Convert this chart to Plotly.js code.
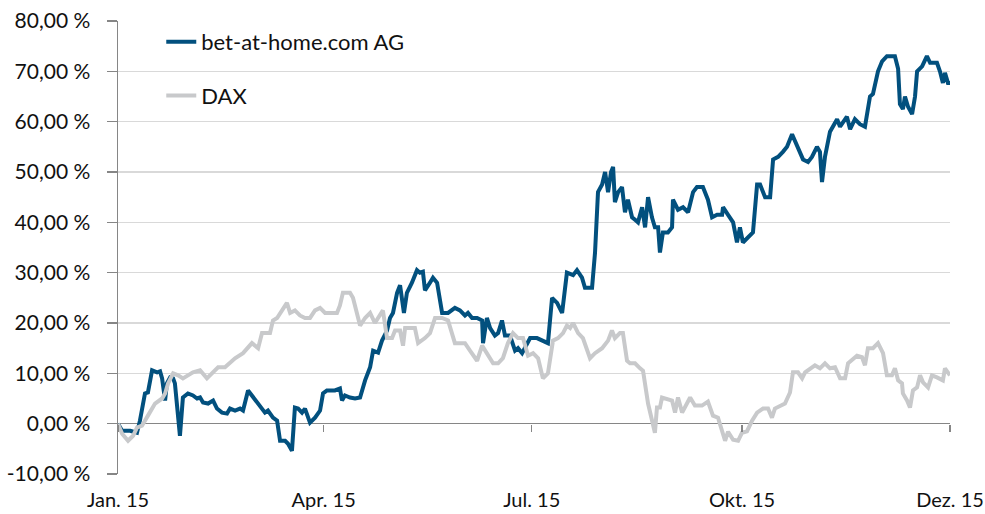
<!DOCTYPE html>
<html>
<head>
<meta charset="utf-8">
<script src="https://cdn.plot.ly/plotly-3.0.1.min.js"></script>
<style>html,body{margin:0;padding:0;background:#fff;}#chart{width:985px;height:514px;}</style>
</head>
<body>
<div id="chart"></div>
<script>
// Days since 1 Jan 2015 and performance in %
const betDays = [0,1.8,5.3,8.3,9.6,11.8,13.1,14.9,17.1,18.4,19.3,20.6,21.4,22.8,24.1,24.9,27.1,28.4,30.6,32.8,34.6,35.9,37.2,39.4,41.6,43.3,45.5,47.7,49,51.2,53.4,54.7,56.9,58.6,60.8,63,64.3,65.6,67.8,69.6,70.9,73.1,74.4,76.1,77.4,78.8,80.5,81.8,84,86.2,88.4,89.7,91.4,94.9,97.1,98,99.3,101.5,103.7,105.9,108.1,110.3,111.6,113.8,115.5,117.7,119,120.3,122.1,123.4,124.3,125.1,126.4,128.6,130.8,132.1,133.4,134.3,136.5,137.8,139.6,141.8,144.4,147.4,149.6,151.8,153.1,154.9,157.1,159.3,159.7,161.4,162.8,164.9,166.3,168,169.3,171.5,173.7,175,176.8,178.9,180.3,183.3,185.9,188.1,189.9,192.1,194.3,196.4,199.1,200.8,203,204.3,207.4,208.7,210,211.8,213.1,214.4,215.7,216.6,217.4,218.8,220.5,221.8,223.1,224.9,226.2,227.5,229.3,230.6,231.9,233.6,234.9,236.3,237.1,238.4,240.6,242.4,242.8,245,247.2,249.4,251.6,253.3,255.9,258.1,259.9,262.1,264.3,264.7,266.9,269.1,270.8,272.1,273.4,275.6,277.8,279.6,280.9,283.1,285.3,286.6,288.8,290.9,292.7,294.9,297.5,299.7,301.9,303.6,305.8,307.1,308,309.3,311.5,312.8,314.6,315.9,317.2,318.9,320.3,322.4,324.6,326.8,329,330.3,332.5,334.3,336.4,339.9,341.3,342.1,343.4,344.3,345.6,347.4,348.7,349.6,351.8,353.9,355.3,358.3,359.6,360.9,361.8,363.1,364];
const betValues = [0,-1.4,-1.4,-1.8,0.6,6,6.2,10.6,10.2,10.4,9,4.6,8,9.2,9,8,-2.4,5.2,6,5.6,5,5.2,4.2,4,4.6,3,2.2,2,3,2.6,3,2.6,6.6,5.6,4.2,3.2,2.2,2.6,1.2,0.6,-3.4,-3.4,-4,-5.4,3.2,3,2.2,3,0.2,1.2,2.6,6,6.6,6.6,7,4.6,5.6,5.2,5,5.2,8.6,11.2,14.5,14.1,16.5,18.5,21,22,26,27.5,25,22,26,28,30.5,30,30.2,26.5,28,29,28,22,22,23,22.5,21.5,22,21,21,20.5,16,21,19,17.5,18,20.5,17.5,17.5,14.5,15,14,16,17,17,16.5,16,25,24,22,30,29.5,30.5,29,27,27,34,46,47.5,50,46,50,51,44,46,47,42,44.5,41,40.5,40,43,39,45,41,39,39,34,38,38,39,44.5,42.5,43,42,46,47,47,44.5,41,41.5,41.5,43,41.5,40,36,39,36,37,38,47.5,47.5,45,45,52.5,53,54,55,57.5,55,52.5,52,53,55,54,48,53,58,59,60.5,59,60,61,58.5,60.5,59.5,59,65,65.5,70,72,73,73,70.5,63.5,62.5,65,63,61.5,65,70,71,73,71.7,71.7,70,67.7,69.7,67.7,67.7];

const daxDays = [0,1.8,4.4,6.6,8.3,10.5,13.1,16.2,19.3,20.6,21.9,24.1,26.3,28.4,30.6,32.8,35.9,38.9,41.1,43.8,46.8,49,51.2,54.7,56.9,58.6,61.3,63,66.5,67.8,69.6,71.8,73.9,75.3,77.4,79.6,81.8,84,86.2,88.4,90.6,95.8,97.1,98.4,101.5,102.8,104.6,105.9,108.1,110.3,112.4,114.6,115.9,117.7,119.9,121.2,123.4,124.7,125.6,127.8,129.9,131.3,134.3,136.5,138.7,141.8,144.4,147.4,150.5,151.8,154,157.1,159.3,161.4,164.1,166.3,168.4,170.6,172.8,175,177.2,179.4,181.6,183.8,185.9,188.1,190.3,192.5,194.7,196.4,197.8,199.1,201.3,203.4,206.5,208.7,211.8,214.4,216.1,217.4,219.6,220.9,222.7,224,226.2,228.4,229.7,231.9,233.6,234.9,235.8,237.1,238,240.2,242.4,243.7,245,246.8,250.3,252.4,255.5,258.1,260.3,262.5,264.3,265.6,266.9,269.1,271.3,273,275.2,277.4,279.6,282.2,284.4,286.1,287.4,289.6,291.8,294,295.3,297.5,299.3,300.6,302.8,304.9,307.1,309.3,311.5,313.7,315.9,318.1,319.4,321.6,323.3,325.5,326.8,328.1,330.3,332.5,334.7,336.4,338.6,339.9,341.3,343,343.4,345.2,346.5,347.8,349.6,350.9,352.2,354.4,356.1,358.3,360.9,361.8,363.1,364];
const daxValues = [0,-2,-3.4,-2.4,-0.8,-0.4,1.6,4,5,6,8,10,9.6,9,9.6,10.2,10.6,9,10,11.2,11.2,12,13,14,15,16,15,18,18,20.5,21,22.5,24,22,22.5,21.5,21,21,22.5,23,22,22,23.5,26,26,25,21.5,19.5,21,22,20,21.5,22.5,17,17,18.5,18.5,15.5,19,19,19,16,17,18,21,21,20.5,16,16,16,14.5,12.5,15.5,14,12,12,13,16,18,17,17,13.5,14,13,9,10,16.5,17,18,19.5,19,20,18,17,13,14,15,16.5,18.5,17,18,18,12.5,12,12,11,10.5,4,0.6,-1.8,3.2,3.2,5.2,5,4.6,2.2,5.2,2.2,5.2,3.6,3.6,4.4,1.6,1.2,-1.8,-3.4,-1.6,-3.2,-3.4,-1.8,-1.5,0.6,2.2,3,3,1.2,3,3.6,4,6.2,10.2,10.2,9,10.2,11,11.6,11,12,11,11.2,9,9,12,13,13.5,13.2,11.6,15,15,16,14,9.6,9.6,11,8.6,8,6,4.6,3.2,6.6,7.2,9.6,8.2,7.2,9.6,9.2,8.6,11,10,9.6];

const seriesNames = ['bet-at-home.com AG', 'DAX'];
const xTickDates = ['2015-01-01', '2015-04-01', '2015-07-01', '2015-10-01', '2015-12-31'];
const xTickLabels = ['Jan. 15', 'Apr. 15', 'Jul. 15', 'Okt. 15', 'Dez. 15'];
const yTickValues = [-10, 0, 10, 20, 30, 40, 50, 60, 70, 80];
const yTickLabels = ['-10,00 %', '0,00 %', '10,00 %', '20,00 %', '30,00 %', '40,00 %', '50,00 %', '60,00 %', '70,00 %', '80,00 %'];

const base = Date.UTC(2015, 0, 1);
const toDate = d => new Date(base + d * 86400000).toISOString().slice(0, 19).replace('T', ' ');

const FONT = 'Lato, "Open Sans", sans-serif';
const AXIS = '#868686';

const traces = [
  {x: betDays.map(toDate), y: betValues, name: seriesNames[0], type: 'scatter', mode: 'lines',
   line: {color: '#02507e', width: 4}, legendgroup: 'a', hoverinfo: 'skip'},
  {x: daxDays.map(toDate), y: daxValues, name: seriesNames[1], type: 'scatter', mode: 'lines',
   line: {color: '#c8c9cb', width: 4}, legendgroup: 'b', hoverinfo: 'skip'},
  // carrier for the tick marks on the 0 % line (draws nothing)
  {x: xTickDates, y: xTickDates.map(() => null), xaxis: 'x2', type: 'scatter', mode: 'lines',
   showlegend: false, hoverinfo: 'skip'}
];

const layout = {
  width: 985, height: 514,
  margin: {l: 118, r: 35, t: 21, b: 40},
  paper_bgcolor: '#fff', plot_bgcolor: '#fff',
  font: {family: FONT, size: 21, color: '#111'},
  showlegend: true,
  legend: {x: 0.052, y: 1.0, xanchor: 'left', yanchor: 'top', bgcolor: 'rgba(0,0,0,0)',
           font: {family: FONT, size: 22, color: '#111'}, traceorder: 'grouped', tracegroupgap: 22},
  xaxis: {
    type: 'date', range: ['2015-01-01', '2015-12-31'],
    tickmode: 'array', tickvals: xTickDates, ticktext: xTickLabels,
    showgrid: false, zeroline: false, showline: false, ticks: '',
    ticklabelstandoff: 12,
    tickfont: {family: FONT, size: 20, color: '#111'}
  },
  xaxis2: {
    type: 'date', range: ['2015-01-01', '2015-12-31'],
    overlaying: 'x', anchor: 'free', position: 10 / 90,
    tickmode: 'array', tickvals: xTickDates, showticklabels: false,
    ticks: 'outside', ticklen: 7, tickwidth: 1.5, tickcolor: AXIS,
    showgrid: false, zeroline: false, showline: false
  },
  yaxis: {
    range: [-10, 80], tickmode: 'array', tickvals: yTickValues, ticktext: yTickLabels,
    showgrid: true, gridcolor: '#d9d9d9', gridwidth: 1.5,
    zeroline: true, zerolinecolor: AXIS, zerolinewidth: 1.5,
    showline: true, linecolor: AXIS, linewidth: 1.5,
    ticks: 'outside', ticklen: 10, tickwidth: 1.5, tickcolor: AXIS,
    ticklabelstandoff: 12,
    tickfont: {family: FONT, size: 21, color: '#111'}
  }
};

Plotly.newPlot('chart', traces, layout, {staticPlot: true});
</script>
</body>
</html>
